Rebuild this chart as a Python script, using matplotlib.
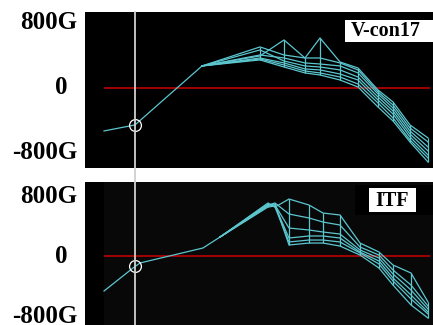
import matplotlib
matplotlib.use("Agg")
import matplotlib.pyplot as plt
from matplotlib.lines import Line2D
from matplotlib.patches import Rectangle
from matplotlib.transforms import blended_transform_factory

# ---------------- data ----------------
# y-axis tick labels
tick_values = [800, 0, -800]
tick_labels = ["800G", "0", "-800G"]

# marker (cursor) position
cursor_x = 135

# --- top panel: V-con17 ---
top_title = "V-con17"
top_stem_x = [104, 135, 177, 202]
top_stem_y = [-529, -455, 0, 271]
top_x = [202, 260, 284, 305, 320, 340, 358, 378, 393, 410, 428]
top_c1 = [271, 505, 406, 369, 615, 320, 246, -25, -172, -455, -615]
top_c2 = [271, 394, 591, 369, 369, 308, 222, -49, -209, -492, -665]
top_c3 = [271, 406, 369, 308, 295, 271, 185, -74, -246, -529, -726]
top_c4 = [271, 468, 332, 271, 258, 222, 135, -111, -283, -566, -775]
top_c5 = [271, 369, 308, 234, 222, 172, 98, -148, -320, -603, -825]
top_c6 = [271, 357, 283, 209, 185, 135, 49, -185, -369, -640, -862]
top_c7 = [271, 345, 258, 185, 160, 98, 12, -234, -406, -665, -911]
top_cursor_y = -455

# --- bottom panel: ITF ---
bot_title = "ITF"
bot_stem_x = [104, 133, 140, 203, 220]
bot_stem_y = [-467, -160, -93, 107, 253]
bot_x = [220, 268, 275, 289, 309, 323, 340, 360, 379, 393, 411, 428]
bot_c1 = [253, 707, 653, 760, 680, 573, 547, 173, 53, -120, -227, -613]
bot_c2 = [253, 680, 707, 560, 507, 453, 413, 120, 13, -187, -387, -667]
bot_c3 = [253, 667, 680, 373, 347, 320, 293, 80, -27, -240, -453, -707]
bot_c4 = [253, 653, 667, 240, 267, 267, 240, 53, -67, -293, -520, -747]
bot_c5 = [253, 693, 653, 187, 213, 213, 187, 40, -107, -333, -573, -773]
bot_c6 = [253, 680, 693, 147, 173, 173, 133, 13, -160, -387, -653, -827]
bot_cursor_y = -133

# ---------------- style ----------------
W, H = 433, 325
CYAN = "#5cc6cf"
RED = "#cc0000"
CURSOR = "#d0d0d0"
FONT = "Liberation Serif"

fig = plt.figure(figsize=(W / 100, H / 100), dpi=100, facecolor="white")

def fr(px_left, px_top, px_right, px_bottom):
    return [px_left / W, 1 - px_bottom / H, (px_right - px_left) / W, (px_bottom - px_top) / H]

ax_top = fig.add_axes(fr(85, 12, 433, 168))
ax_bot = fig.add_axes(fr(85, 182, 433, 325))

ax_top.set_facecolor("black")
ax_bot.set_facecolor("#080808")

ax_top.set_xlim(85, 433)
ax_top.set_ylim(-985, 935)
ax_bot.set_xlim(85, 433)
ax_bot.set_ylim(-920, 987)

for ax in (ax_top, ax_bot):
    ax.set_xticks([])
    ax.set_yticks([])
    for s in ax.spines.values():
        s.set_visible(False)

ax_bot.axvspan(85, 104, color="black", lw=0, zorder=0)

def draw_panel(ax, stem_x, stem_y, xs, curves, cursor_y):
    ax.hlines(0, 104, 430, color=RED, lw=1.1, zorder=2)
    ax.plot(stem_x, stem_y, color=CYAN, lw=0.9, zorder=3)
    for c in curves:
        ax.plot(xs, c, color=CYAN, lw=0.9, zorder=3)
    for i in range(1, len(xs)):
        vals = [c[i] for c in curves]
        ax.vlines(xs[i], min(vals), max(vals), color=CYAN, lw=0.9, zorder=3)
    ax.plot([cursor_x], [cursor_y], marker="o", ms=8.5, mfc="none",
            mec="white", mew=0.9, zorder=5)

draw_panel(ax_top, top_stem_x, top_stem_y, top_x,
           [top_c1, top_c2, top_c3, top_c4, top_c5, top_c6, top_c7], top_cursor_y)
draw_panel(ax_bot, bot_stem_x, bot_stem_y, bot_x,
           [bot_c1, bot_c2, bot_c3, bot_c4, bot_c5, bot_c6], bot_cursor_y)

# cursor line across both panels
tr = blended_transform_factory(ax_top.transData, fig.transFigure)
fig.add_artist(Line2D([cursor_x, cursor_x], [0, 1 - 12 / H], transform=tr,
                      color=CURSOR, lw=1.3, zorder=4))

# y tick labels
for ax in (ax_top, ax_bot):
    t = blended_transform_factory(fig.transFigure, ax.transData)
    for v, lab in zip(tick_values, tick_labels):
        if lab == "0":
            fig.text(61 / W, v, lab, transform=t, ha="center", va="center",
                     fontsize=18, fontweight="bold", family=FONT)
        else:
            fig.text(77 / W, v, lab, transform=t, ha="right", va="center",
                     fontsize=18, fontweight="bold", family=FONT)

# legend boxes
fig.add_artist(Rectangle((345 / W, 1 - 42 / H), 88 / W, 22 / H,
                         transform=fig.transFigure, facecolor="white", edgecolor="none", zorder=6))
fig.text(386 / W, 1 - 31.5 / H, top_title, ha="center", va="center",
         fontsize=14.5, fontweight="bold", family=FONT, zorder=7)

fig.add_artist(Rectangle((355 / W, 1 - 215 / H), 78 / W, 30 / H,
                         transform=fig.transFigure, facecolor="black", edgecolor="none", zorder=6))
fig.add_artist(Rectangle((369 / W, 1 - 212 / H), 47 / W, 24 / H,
                         transform=fig.transFigure, facecolor="white", edgecolor="none", zorder=6))
fig.text(392.5 / W, 1 - 200.5 / H, bot_title, ha="center", va="center",
         fontsize=14.5, fontweight="bold", family=FONT, zorder=7)

fig.savefig("out.png", dpi=100, facecolor="white")
